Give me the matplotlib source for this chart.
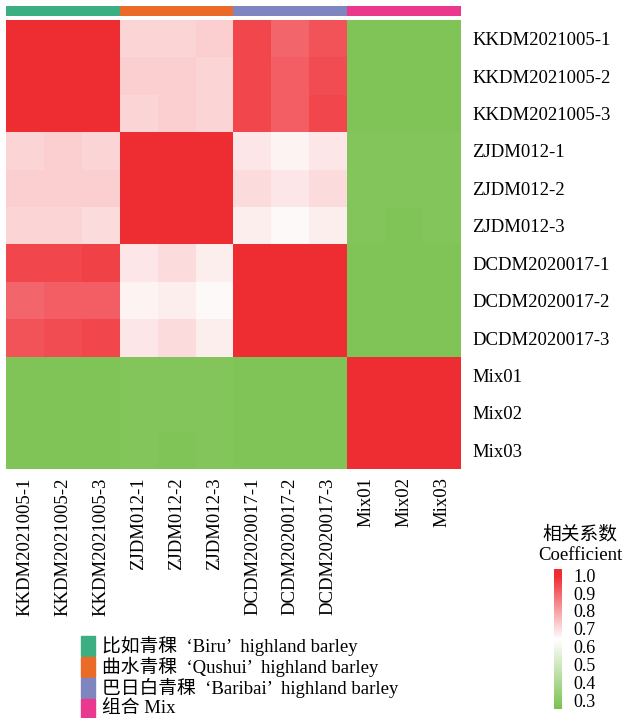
import numpy as np
import matplotlib
matplotlib.use("Agg")
import matplotlib.pyplot as plt
from matplotlib.colors import LinearSegmentedColormap, ListedColormap, Normalize
from matplotlib.cm import ScalarMappable
from matplotlib.patches import Rectangle

# Sample names (rows and columns share the same order)
samples = ["KKDM2021005-1", "KKDM2021005-2", "KKDM2021005-3",
           "ZJDM012-1", "ZJDM012-2", "ZJDM012-3",
           "DCDM2020017-1", "DCDM2020017-2", "DCDM2020017-3",
           "Mix01", "Mix02", "Mix03"]
groups = [0, 0, 0, 1, 1, 1, 2, 2, 2, 3, 3, 3]
group_names = ["比如青稞  ‘Biru’  highland barley",
               "曲水青稞  ‘Qushui’  highland barley",
               "巴日白青稞  ‘Baribai’  highland barley",
               "组合 Mix"]
group_colors = ["#3BAF82", "#EC6A27", "#7F86BF", "#E9388E"]

# Pairwise correlation coefficients
corr = np.array([
    [1.00, 1.00, 1.00, 0.71, 0.71, 0.72, 0.95, 0.90, 0.93, 0.27, 0.27, 0.27],
    [1.00, 1.00, 1.00, 0.72, 0.72, 0.71, 0.95, 0.91, 0.94, 0.27, 0.27, 0.27],
    [1.00, 1.00, 1.00, 0.71, 0.72, 0.71, 0.95, 0.91, 0.95, 0.27, 0.27, 0.27],
    [0.71, 0.72, 0.71, 1.00, 1.00, 1.00, 0.68, 0.66, 0.68, 0.28, 0.28, 0.28],
    [0.72, 0.72, 0.72, 1.00, 1.00, 1.00, 0.70, 0.68, 0.70, 0.28, 0.28, 0.28],
    [0.71, 0.71, 0.70, 1.00, 1.00, 1.00, 0.67, 0.65, 0.67, 0.28, 0.27, 0.28],
    [0.95, 0.95, 0.96, 0.68, 0.70, 0.67, 1.00, 1.00, 1.00, 0.27, 0.27, 0.27],
    [0.90, 0.91, 0.91, 0.66, 0.67, 0.65, 1.00, 1.00, 1.00, 0.27, 0.27, 0.27],
    [0.93, 0.94, 0.95, 0.68, 0.70, 0.67, 1.00, 1.00, 1.00, 0.27, 0.27, 0.27],
    [0.27, 0.27, 0.27, 0.28, 0.28, 0.28, 0.27, 0.27, 0.27, 1.00, 1.00, 1.00],
    [0.27, 0.27, 0.27, 0.28, 0.28, 0.28, 0.27, 0.27, 0.27, 1.00, 1.00, 1.00],
    [0.27, 0.27, 0.27, 0.28, 0.27, 0.28, 0.27, 0.27, 0.27, 1.00, 1.00, 1.00],
])
cbar_ticks = [0.3, 0.4, 0.5, 0.6, 0.7, 0.8, 0.9, 1.0]

serif = ["Liberation Serif", "Noto Sans CJK SC"]
plt.rcParams["font.family"] = serif

cmap = LinearSegmentedColormap.from_list(
    "gwr", [(0.0, "#7AC14E"), (0.497, "#FFFFFF"), (0.95, "#EE2D33"), (1.0, "#EE2D33")])
norm = Normalize(vmin=0.25, vmax=1.035)

W, H = 628, 718
fig = plt.figure(figsize=(W / 100, H / 100), dpi=100)

def px_axes(x0, y0, x1, y1):
    return fig.add_axes([x0 / W, 1 - y1 / H, (x1 - x0) / W, (y1 - y0) / H])

# main heatmap
ax = px_axes(6, 20, 461, 469)
n = len(samples)
ax.imshow(corr, cmap=cmap, norm=norm, aspect="auto", interpolation="nearest")
ax.set_xticks(range(n))
ax.set_xticklabels(samples, rotation=90, fontsize=13.5, va="top")
ax.set_yticks(range(n))
ax.set_yticklabels(samples, fontsize=13.5)
ax.yaxis.tick_right()
ax.tick_params(length=0, pad=8)
ax.tick_params(axis="x", pad=6)
for s in ax.spines.values():
    s.set_visible(False)

# group annotation bar on top
axg = px_axes(6, 6, 461, 16)
axg.imshow(np.array([groups]), cmap=ListedColormap(group_colors), aspect="auto",
           interpolation="nearest", vmin=-0.5, vmax=3.5)
axg.axis("off")

# colorbar
cax = px_axes(554, 569, 562, 709)
cb = fig.colorbar(ScalarMappable(norm=norm, cmap=cmap), cax=cax, ticks=cbar_ticks)
cb.outline.set_visible(False)
cb.ax.tick_params(length=0, pad=8, labelsize=13)
cb.ax.set_yticklabels([f"{t:.1f}" for t in cbar_ticks])
fig.text(580 / W, 1 - 535 / H, "相关系数", ha="center", va="center", fontsize=13.5)
fig.text(580 / W, 1 - 555 / H, "Coefficient", ha="center", va="center", fontsize=13.5)

# legend for sample groups
for i, (name, col) in enumerate(zip(group_names, group_colors)):
    y0 = 636 + i * 21
    fig.patches.append(Rectangle((81 / W, 1 - (y0 + 20) / H), 14 / W, 20 / H,
                                 transform=fig.transFigure, color=col))
    fig.text(102 / W, 1 - (y0 + 10) / H, name, ha="left", va="center", fontsize=13.5)

fig.savefig("out.png", dpi=100)
